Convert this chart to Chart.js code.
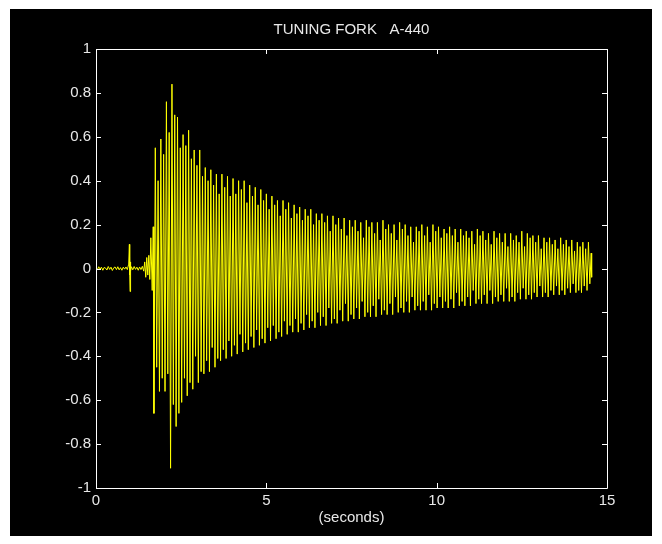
<!DOCTYPE html>
<html>
<head>
<meta charset="utf-8">
<title>Tuning fork A-440</title>
<script src="https://cdn.jsdelivr.net/npm/chart.js@4/dist/chart.umd.min.js"></script>
<style>
  html, body { margin: 0; padding: 0; background: #ffffff; }
  #frame {
    position: absolute;
    left: 10px;
    top: 9px;
    width: 642px;
    height: 527px;
    background: #000000;
  }
  #waveChart { display: block; }
</style>
</head>
<body>
<div id="frame">
  <canvas id="waveChart" width="642" height="527"></canvas>
</div>
<script>
// quiet part before the strike, the tap at ~1 s and the first swing
const leadTimes = [0, 0.04, 0.08, 0.12, 0.16, 0.2, 0.24, 0.28, 0.32, 0.36, 0.4, 0.44, 0.48, 0.52,
  0.56, 0.6, 0.64, 0.68, 0.72, 0.76, 0.8, 0.84, 0.88, 0.92, 0.96, 0.98, 0.99, 1.0, 1.01, 1.02,
  1.04, 1.08, 1.12, 1.16, 1.2, 1.24, 1.28, 1.32, 1.36, 1.4, 1.43, 1.46, 1.49, 1.52, 1.55, 1.58,
  1.61, 1.65, 1.68];
const leadValues = [0.004, -0.006, 0.008, -0.003, 0.006, -0.008, 0.005, 0.002, -0.007, 0.009,
  -0.004, 0.006, -0.009, 0.003, 0.007, -0.005, 0.008, -0.006, 0.004, -0.008, 0.006, -0.003,
  0.007, -0.005, 0.02, 0.11, -0.03, -0.105, 0.03, -0.01, 0.008, -0.006, 0.009, -0.004, 0.006,
  -0.008, 0.007, -0.005, 0.01, -0.012, 0.03, -0.04, 0.05, -0.03, 0.06, -0.05, 0.14, -0.1, 0.19];

// one entry per oscillation after the strike
const cycleStart = 1.70;
const cyclePeriod = 0.163;
const troughs = [-0.66, -0.56, -0.56, -0.91, -0.72, -0.61, -0.58, -0.55, -0.52, -0.48, -0.47, -0.45, -0.42, -0.41,
  -0.40, -0.39, -0.38, -0.37, -0.36, -0.35, -0.34, -0.33, -0.32, -0.31, -0.30, -0.29, -0.29, -0.28, -0.27, -0.27,
  -0.26, -0.26, -0.25, -0.25, -0.24, -0.24, -0.23, -0.23, -0.22, -0.22, -0.22, -0.21, -0.21, -0.21, -0.20, -0.20, -0.20, -0.19, -0.19, -0.19,
  -0.19, -0.18, -0.18, -0.18, -0.18, -0.17, -0.17, -0.17, -0.16, -0.16, -0.16, -0.16, -0.15, -0.15, -0.15, -0.15,
  -0.14, -0.14, -0.14, -0.13, -0.13, -0.13, -0.12, -0.12, -0.12, -0.11, -0.11, -0.11, -0.10];
const peaks = [0.55, 0.59, 0.76, 0.84, 0.69, 0.61, 0.63, 0.54, 0.54, 0.46, 0.45, 0.43, 0.43, 0.42,
  0.41, 0.40, 0.40, 0.38, 0.37, 0.36, 0.34, 0.33, 0.31, 0.31, 0.30, 0.29, 0.28, 0.27, 0.27, 0.25,
  0.25, 0.24, 0.24, 0.23, 0.23, 0.22, 0.22, 0.21, 0.22, 0.21, 0.21, 0.22, 0.20, 0.20, 0.21, 0.20, 0.19, 0.19, 0.20, 0.19,
  0.20, 0.19, 0.18, 0.19, 0.18, 0.18, 0.17, 0.17, 0.18, 0.17, 0.16, 0.17, 0.16, 0.16, 0.16, 0.15,
  0.17, 0.16, 0.15, 0.15, 0.14, 0.14, 0.13, 0.14, 0.13, 0.13, 0.12, 0.12, 0.12];
// the second, shorter stroke inside each oscillation
const dips = [-0.45, -0.50, -0.48, -0.62, -0.66, -0.50, -0.52, -0.40, -0.47, -0.42, -0.36, -0.41, -0.37, -0.33,
  -0.35, -0.30, -0.34, -0.31, -0.28, -0.32, -0.27, -0.26, -0.29, -0.24, -0.26, -0.23, -0.25, -0.21, -0.24, -0.20,
  -0.22, -0.18, -0.23, -0.19, -0.16, -0.21, -0.18, -0.15, -0.20, -0.17, -0.14, -0.19, -0.16, -0.13, -0.18, -0.15, -0.13, -0.17, -0.15, -0.12,
  -0.16, -0.13, -0.15, -0.14, -0.11, -0.15, -0.13, -0.10, -0.14, -0.12, -0.10, -0.13, -0.12, -0.09, -0.13, -0.11,
  -0.09, -0.12, -0.11, -0.08, -0.11, -0.10, -0.08, -0.10, -0.09, -0.07, -0.10, -0.08, -0.07];
const rises = [0.40, 0.52, 0.62, 0.70, 0.55, 0.56, 0.50, 0.47, 0.42, 0.40, 0.38, 0.34, 0.37, 0.33,
  0.34, 0.36, 0.30, 0.33, 0.29, 0.31, 0.27, 0.29, 0.24, 0.27, 0.23, 0.25, 0.22, 0.24, 0.20, 0.22,
  0.21, 0.17, 0.20, 0.18, 0.15, 0.19, 0.17, 0.14, 0.19, 0.16, 0.13, 0.18, 0.16, 0.13, 0.18, 0.15, 0.12, 0.17, 0.15, 0.12,
  0.17, 0.14, 0.16, 0.15, 0.12, 0.15, 0.14, 0.11, 0.15, 0.13, 0.11, 0.14, 0.12, 0.10, 0.13, 0.12,
  0.10, 0.14, 0.12, 0.09, 0.12, 0.11, 0.09, 0.11, 0.10, 0.08, 0.10, 0.09, 0.07];

const tailTimes = [14.55];
const tailValues = [-0.04];

const xTicks = [0, 5, 10, 15];
const yTicks = [-1, -0.8, -0.6, -0.4, -0.2, 0, 0.2, 0.4, 0.6, 0.8, 1];

function buildPoints() {
  const points = leadTimes.map((t, i) => ({ x: t, y: leadValues[i] }));
  const q = cyclePeriod / 4;

  troughs.forEach((low, k) => {
    const t = cycleStart + k * cyclePeriod;
    points.push({ x: t, y: low });
    points.push({ x: t + q, y: peaks[k] });
    points.push({ x: t + 2 * q, y: dips[k] });
    points.push({ x: t + 3 * q, y: rises[k] });
  });

  tailTimes.forEach((t, i) => points.push({ x: t, y: tailValues[i] }));
  return points;
}

const axisColor = "#ffffff";
const textColor = "#e8e8e8";
const fontFamily = "'Liberation Sans', Arial, sans-serif";

// box around the plot with the tick marks pointing inwards on all four sides
const boxPlugin = {
  id: "box",
  afterDraw(chart) {
    const { ctx, chartArea: a, scales } = chart;
    const len = 5;
    ctx.save();
    ctx.strokeStyle = axisColor;
    ctx.lineWidth = 1;
    ctx.beginPath();
    ctx.rect(Math.round(a.left) + 0.5, Math.round(a.top) + 0.5,
      Math.round(a.right - a.left), Math.round(a.bottom - a.top));

    xTicks.forEach(v => {
      const px = Math.round(scales.x.getPixelForValue(v)) + 0.5;
      ctx.moveTo(px, a.bottom);
      ctx.lineTo(px, a.bottom - len);
      ctx.moveTo(px, a.top);
      ctx.lineTo(px, a.top + len);
    });
    yTicks.forEach(v => {
      const py = Math.round(scales.y.getPixelForValue(v)) + 0.5;
      ctx.moveTo(a.left, py);
      ctx.lineTo(a.left + len, py);
      ctx.moveTo(a.right, py);
      ctx.lineTo(a.right - len, py);
    });
    ctx.stroke();
    ctx.restore();
  }
};

new Chart(document.getElementById("waveChart"), {
  type: "line",
  data: {
    datasets: [{
      data: buildPoints(),
      borderColor: "#ffff00",
      borderWidth: 1,
      pointRadius: 0,
      tension: 0
    }]
  },
  options: {
    responsive: false,
    animation: false,
    devicePixelRatio: 1,
    layout: {
      padding: { left: 0, right: 45, top: 0, bottom: 0 }
    },
    plugins: {
      legend: { display: false },
      tooltip: { enabled: false },
      title: {
        display: true,
        fullSize: false,
        text: "TUNING FORK   A-440",
        color: textColor,
        font: { family: fontFamily, size: 15, weight: "normal" },
        padding: { top: 12, bottom: 10 }
      }
    },
    scales: {
      x: {
        type: "linear",
        min: 0,
        max: 15,
        grid: { display: false, drawTicks: false },
        border: { display: false },
        afterBuildTicks(scale) {
          scale.ticks = xTicks.map(v => ({ value: v }));
        },
        afterFit(scale) {
          scale.height = 48;
        },
        ticks: {
          color: textColor,
          padding: 4,
          maxRotation: 0,
          font: { family: fontFamily, size: 15 }
        },
        title: {
          display: true,
          text: "(seconds)",
          color: textColor,
          font: { family: fontFamily, size: 15 },
          padding: { top: 0, bottom: 9 }
        }
      },
      y: {
        min: -1,
        max: 1,
        grid: { display: false, drawTicks: false },
        border: { display: false },
        afterBuildTicks(scale) {
          scale.ticks = yTicks.map(v => ({ value: v }));
        },
        afterFit(scale) {
          scale.width = 86;
        },
        ticks: {
          color: textColor,
          padding: 5,
          font: { family: fontFamily, size: 15 },
          callback: v => String(Math.round(v * 10) / 10)
        }
      }
    }
  },
  plugins: [boxPlugin]
});
</script>
</body>
</html>
